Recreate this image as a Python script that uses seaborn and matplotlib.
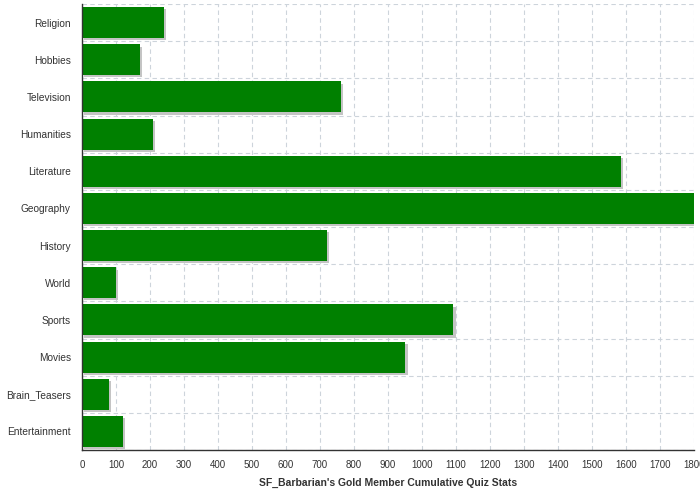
import numpy as np
import matplotlib.pyplot as plt
import matplotlib.patheffects as pe
import pandas as pd
import seaborn as sns

# quiz categories, top to bottom
categories = ["Religion", "Hobbies", "Television", "Humanities", "Literature",
              "Geography", "History", "World", "Sports", "Movies",
              "Brain_Teasers", "Entertainment"]
scores = [241, 171, 761, 209, 1586, 1800, 720, 101, 1093, 952, 80, 121]
x_ticks = list(range(0, 1801, 100))

df = pd.DataFrame({"Category": categories, "Score": scores})

sns.set_style("white")
plt.rcParams['font.family'] = ['Liberation Sans', 'DejaVu Sans']

fig = plt.figure(figsize=(7, 5), dpi=100)
ax = fig.add_axes([0.117, 0.1, 0.874, 0.892])

sns.barplot(data=df, x="Score", y="Category", orient="h", color="#008000",
            saturation=1, width=0.83, linewidth=0, ax=ax)

# little drop shadow on each bar
for bar in ax.patches:
    bar.set_path_effects([pe.SimplePatchShadow(offset=(1.6, -1.6),
                                               shadow_rgbFace="#c4c4c4", alpha=1.0),
                          pe.Normal()])

ax.set_xlim(0, 1800)
ax.set_ylim(len(categories) - 0.5, -0.5)
ax.set_xticks(x_ticks)
ax.set_xticklabels([str(t) for t in x_ticks])
ax.set_yticks(np.arange(-0.5, len(categories), 1), minor=True)

grid_kw = dict(linestyle=(0, (4, 3)), color="#cdd4db", linewidth=0.8)
ax.set_axisbelow(True)
ax.xaxis.grid(True, **grid_kw)
ax.yaxis.grid(True, which="minor", **grid_kw)
ax.yaxis.grid(False, which="major")

for s in ["top", "right"]:
    ax.spines[s].set_visible(False)
for s in ["left", "bottom"]:
    ax.spines[s].set_color("#333333")
    ax.spines[s].set_linewidth(1.0)

ax.tick_params(axis="y", which="major", length=0, pad=8, labelsize=7.3, labelcolor="#333333")
ax.tick_params(axis="y", which="minor", length=7, color="#333333", width=1.0)
ax.tick_params(axis="x", which="major", length=4, color="#333333", width=0.8,
               labelsize=7, labelcolor="#333333", pad=3)

ax.set_ylabel("")
ax.set_xlabel("SF_Barbarian's Gold Member Cumulative Quiz Stats", fontsize=7.5,
              fontweight="bold", color="#333333", labelpad=6)

fig.savefig("out.png", dpi=100)
